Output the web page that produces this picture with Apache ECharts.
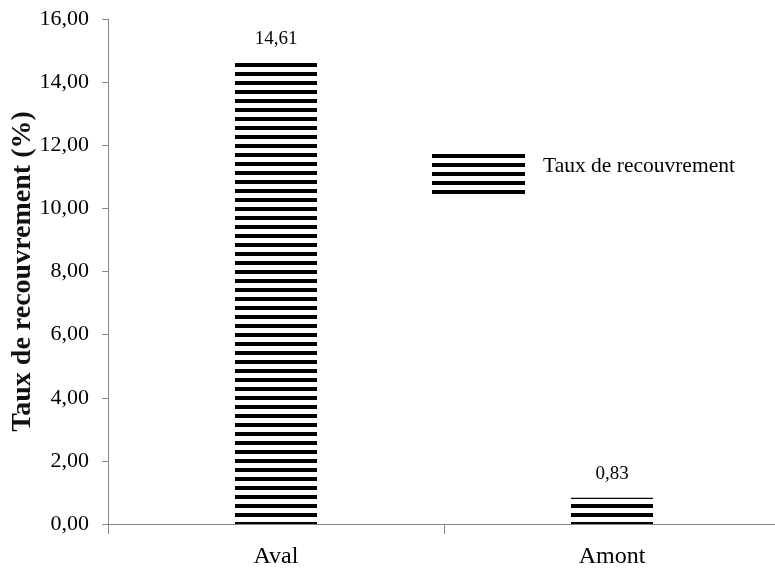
<!DOCTYPE html>
<html><head><meta charset="utf-8">
<script src="https://cdn.jsdelivr.net/npm/echarts@6/dist/echarts.min.js"></script>
<style>html,body{margin:0;padding:0;background:#fff}#c{width:775px;height:578px}</style>
</head><body><div id="c"></div>
<script>
const categories = ['Aval', 'Amont'];
const values = [14.61, 0.83];
const seriesName = 'Taux de recouvrement';
const yAxisTitle = 'Taux de recouvrement (%)';
const yMin = 0, yMax = 16, yInterval = 2;

function stripes() {
  const c = document.createElement('canvas');
  c.width = 8; c.height = 9;
  const ctx = c.getContext('2d');
  ctx.fillStyle = '#fff'; ctx.fillRect(0, 0, 8, 9);
  ctx.fillStyle = '#000'; ctx.fillRect(0, 0, 8, 4);
  return c;
}
const fmt = v => Number(v).toFixed(2).replace('.', ',');
const font = '"Liberation Serif", "Times New Roman", serif';
const chart = echarts.init(document.getElementById('c'));
chart.setOption({
  animation: false,
  backgroundColor: '#fff',
  grid: { left: 108, right: -5, top: 19, bottom: 54, containLabel: false, outerBoundsMode: 'none' },
  legend: {
    left: 432, top: 154, padding: 0, itemWidth: 93, itemHeight: 44, itemGap: 10,
    icon: 'rect',
    formatter: n => '{a|' + n + '}',
    textStyle: { fontFamily: font, fontSize: 21.5, color: '#000',
      rich: { a: { fontFamily: font, fontSize: 21.5, color: '#000', padding: [0, 0, 20, 13] } } },
    data: [seriesName]
  },
  xAxis: {
    type: 'category', data: categories,
    axisLine: { lineStyle: { color: '#888' } },
    axisTick: { show: true, length: 10, lineStyle: { color: '#888' } },
    axisLabel: { fontFamily: font, fontSize: 24, color: '#000', margin: 21 }
  },
  yAxis: {
    type: 'value', min: yMin, max: yMax, interval: yInterval,
    name: yAxisTitle, nameLocation: 'middle', nameGap: 71, nameMoveOverlap: false,
    nameTextStyle: { fontFamily: font, fontSize: 28, fontWeight: 'bold', color: '#111' },
    axisLine: { show: true, lineStyle: { color: '#888' } },
    axisTick: { show: true, length: 6, lineStyle: { color: '#888' } },
    splitLine: { show: false },
    axisLabel: { fontFamily: font, fontSize: 22, color: '#000', margin: 19, formatter: fmt }
  },
  series: [{
    name: seriesName, type: 'bar', data: values, barWidth: 82,
    itemStyle: { color: { image: stripes(), repeat: 'repeat' } },
    label: { show: true, position: 'top', distance: 14, fontFamily: font, fontSize: 19, color: '#000',
      formatter: p => fmt(p.value) }
  }]
});
</script></body></html>
